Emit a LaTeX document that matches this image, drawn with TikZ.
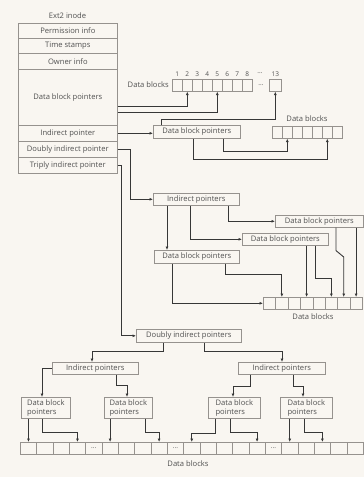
\documentclass[tikz,border=0pt]{standalone}
\usepackage{fontspec}
\setmainfont{Open Sans}
\usetikzlibrary{arrows.meta,calc}
\definecolor{bgc}{RGB}{249,246,241}
\definecolor{boxc}{RGB}{150,146,142}
\definecolor{arrc}{RGB}{55,55,55}
\definecolor{txtc}{RGB}{80,80,80}
\begin{document}
\begin{tikzpicture}[x=1pt,y=-1pt,
  box/.style={draw=boxc, line width=0.6pt, inner sep=0pt, anchor=north west,
    font=\fontsize{7.6}{9}\selectfont, text=txtc, align=center},
  cell/.style={draw=boxc, line width=0.6pt, inner sep=0pt, anchor=north west, minimum height=12pt},
  lbl/.style={font=\fontsize{7.6}{9}\selectfont, text=txtc, inner sep=0pt},
  num/.style={font=\fontsize{6.5}{7}\selectfont, text=txtc, inner sep=0pt},
  arr/.style={draw=arrc, line width=0.9pt, -{Latex[length=3.5pt,width=3pt]}}
]
\fill[bgc] (0,0) rectangle (364,477);
\useasboundingbox (0,0) rectangle (364,477);

% inode table
\node[lbl] (title) at (67.5,16) {Ext2 inode};
\node[box, minimum width=99pt, minimum height=15pt] (r1) at (18,23) {Permission info};
\node[box, minimum width=99pt, minimum height=15pt] (r2) at (18,38) {Time stamps};
\node[box, minimum width=99pt, minimum height=16pt] (r3) at (18,53) {Owner info};
\node[box, minimum width=99pt, minimum height=56pt] (r4) at (18,69) {Data block pointers};
\node[box, minimum width=99pt, minimum height=16pt] (r5) at (18,125) {Indirect pointer};
\node[box, minimum width=99pt, minimum height=16pt] (r6) at (18,141) {Doubly indirect pointer};
\node[box, minimum width=99pt, minimum height=16pt] (r7) at (18,157) {Triply indirect pointer};

% top data blocks
\foreach \i in {1,...,8}{
  \node[cell, minimum width=10pt] (c\i) at ({172+(\i-1)*10},79) {};
  \node[num, above=2pt] at (c\i.north) {\i};
}
\node[num] (dotsa) at (260,73) {...};
\node[num] (dotsb) at (261,85) {...};
\node[cell, minimum width=12pt] (c13) at (269,79) {};
\node[num, above=2pt] (n13) at (c13.north) {13};
\node[lbl, anchor=east] (dbl1) at (169,85) {Data blocks};

% indirect level
\node[box, minimum width=87pt, minimum height=13pt] (dbpA) at (153,125) {Data block pointers};
\foreach \i in {1,...,7}{
  \node[cell, minimum width=10pt] (d\i) at ({272+(\i-1)*10},126) {};
}
\node[lbl] (dbl2) at (307,119) {Data blocks};

% doubly indirect level
\node[box, minimum width=86pt, minimum height=12pt] (ipA) at (153,193) {Indirect pointers};
\node[box, minimum width=88pt, minimum height=12pt] (dbpD) at (275,215) {Data block pointers};
\node[box, minimum width=86pt, minimum height=12pt] (dbpC) at (242,233) {Data block pointers};
\node[box, minimum width=85pt, minimum height=13pt] (dbpB) at (154,250) {Data block pointers};
\foreach \i in {1,...,8}{
  \node[cell, minimum width=12.375pt] (m\i) at ({263+(\i-1)*12.375},297) {};
}
\node[lbl] (dbl3) at (313,317) {Data blocks};

% triply indirect level
\node[box, minimum width=105pt, minimum height=13pt] (dipA) at (136,329) {Doubly indirect pointers};
\node[box, minimum width=86pt, minimum height=12pt] (ipB) at (52,362) {Indirect pointers};
\node[box, minimum width=87pt, minimum height=12pt] (ipC) at (238,362) {Indirect pointers};
\node[box, minimum width=49pt, minimum height=21pt, align=left] (dbp1) at (21,397) {Data block\\pointers};
\node[box, minimum width=48pt, minimum height=21pt, align=left] (dbp2) at (104,397) {Data block\\pointers};
\node[box, minimum width=52pt, minimum height=21pt, align=left] (dbp3) at (208,397) {Data block\\pointers};
\node[box, minimum width=52pt, minimum height=21pt, align=left] (dbp4) at (280,397) {Data block\\pointers};
\foreach \i in {1,...,21}{
  \node[cell, minimum width=16.33pt] (b\i) at ({20+(\i-1)*16.33},442) {};
}
\node[num] (e1) at (b5) {...};
\node[num] (e2) at (b10) {...};
\node[num] (e3) at (b16) {...};
\node[lbl] (dbl4) at (188,464) {Data blocks};

% --- connectors ---
% direct pointers
\draw[arr] ([yshift=-9pt]r4.east) -| (c2.south);
\draw[arr] ([yshift=-15pt]r4.east) -| (c5.south);
\draw[arr] (r5.east) -- (r5.east -| dbpA.west);
\draw[arr] ([xshift=8pt]dbpA.north west) -- ++(0,-6) -| (c13.south);
% single indirect
\draw[arr] ([xshift=70pt]dbpA.south west) -- ++(0,13) -| (d2.south);
\draw[arr] ([xshift=40pt]dbpA.south west) -- ++(0,21) -| (d6.south);
% doubly indirect
\draw[arr] (r6.east) -- ++(13,0) |- (ipA.west);
\draw[arr] ([xshift=14pt]ipA.south west) -- ([xshift=13pt]dbpB.north west);
\draw[arr] ([xshift=37pt]ipA.south west) |- (dbpC.west);
\draw[arr] ([xshift=75pt]ipA.south west) |- (dbpD.west);
\draw[arr] ([xshift=18pt]dbpB.south west) |- (m1.west);
\draw[arr] ([xshift=71pt]dbpB.south west) -- ++(0,11) -| (m2.north);
\draw[arr] (dbpC.south -| m4.north) -- (m4.north);
\draw[arr] ([xshift=73pt]dbpC.south west) -- ++(0,33) -| (m6.north);
\draw[arr] ([xshift=61pt]dbpD.south west) -- ++(0,23) -- ([yshift=40pt]m7.north) -- (m7.north);
\draw[arr] (dbpD.south -| m8.north) -- (m8.north);
% triply indirect
\draw[arr] (r7.east) -- ++(4,0) |- (dipA.west);
\draw[arr] ([xshift=27pt]dipA.south west) -- ++(0,9) -| ([xshift=40pt]ipB.north west);
\draw[arr] ([xshift=68pt]dipA.south west) -- ++(0,9) -| ([xshift=44pt]ipC.north west);
\draw[arr] (ipB.west) -| ([xshift=21pt]dbp1.north west);
\draw[arr] ([xshift=64pt]ipB.south west) -- ++(0,11) -| ([xshift=23pt]dbp2.north west);
\draw[arr] ([xshift=12pt]ipC.south west) -- ++(0,12) -| ([xshift=25pt]dbp3.north west);
\draw[arr] ([xshift=55pt]ipC.south west) -- ++(0,12) -| ([xshift=23pt]dbp4.north west);
\draw[arr] (dbp1.south -| b1.north) -- (b1.north);
\draw[arr] ([xshift=21pt]dbp1.south west) -- ++(0,14) -| (b4.north);
\draw[arr] (dbp2.south -| b6.north) -- (b6.north);
\draw[arr] ([xshift=41pt]dbp2.south west) -- ++(0,14) -| (b9.north);
\draw[arr] ([xshift=7pt]dbp3.south west) -- ++(0,15) -| (b11.north);
\draw[arr] ([xshift=22pt]dbp3.south west) -- ++(0,14) -| (b15.north);
\draw[arr] (dbp4.south -| b17.north) -- (b17.north);
\draw[arr] ([xshift=24pt]dbp4.south west) -- ++(0,14) -| (b19.north);
\end{tikzpicture}
\end{document}
